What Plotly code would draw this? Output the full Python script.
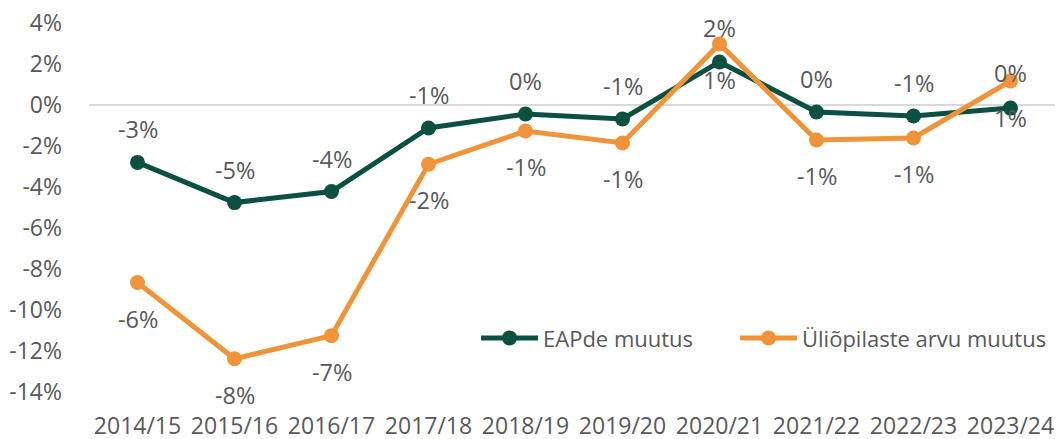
import plotly.graph_objects as go

years = ["2014/15", "2015/16", "2016/17", "2017/18", "2018/19",
         "2019/20", "2020/21", "2021/22", "2022/23", "2023/24"]
eap_values = [-2.80, -4.76, -4.22, -1.12, -0.44, -0.68, 2.10, -0.34, -0.54, -0.15]
students_values = [-8.66, -12.38, -11.25, -2.89, -1.27, -1.85, 2.98, -1.71, -1.61, 1.17]
eap_labels = ["-3%", "-5%", "-4%", "-1%", "0%", "-1%", "1%", "0%", "-1%", "1%"]
students_labels = ["-6%", "-8%", "-7%", "-2%", "-1%", "-1%", "2%", "-1%", "-1%", "0%"]
y_ticks = [-14, -12, -10, -8, -6, -4, -2, 0, 2, 4]
y_tick_text = ["-14%", "-12%", "-10%", "-8%", "-6%", "-4%", "-2%", "0%", "2%", "4%"]

GREEN = "#0b5040"
ORANGE = "#f0943c"
TEXT = "#595959"
FONT = "Open Sans"
FS = 23.5
TICK_FS = 23
LEG_FS = 22

fig = go.Figure()
fig.add_trace(go.Scatter(
    x=years, y=eap_values, name="EAPde muutus", mode="lines+markers",
    line=dict(color=GREEN, width=5), marker=dict(size=15, color=GREEN),
    legend="legend",
))
fig.add_trace(go.Scatter(
    x=years, y=students_values, name="Üliõpilaste arvu muutus", mode="lines+markers",
    line=dict(color=ORANGE, width=5), marker=dict(size=15, color=ORANGE),
    legend="legend2",
))

# label offsets (pixels): green above, orange below, with a few manual placements
green_shift = {6: -18, 9: -10}
orange_shift = {6: 16, 9: 8}
annotations = []
for i, (yr, v, t) in enumerate(zip(years, eap_values, eap_labels)):
    annotations.append(dict(x=yr, y=v, text=t, showarrow=False,
                            yshift=green_shift.get(i, 33),
                            font=dict(family=FONT, size=FS, color=TEXT)))
for i, (yr, v, t) in enumerate(zip(years, students_values, students_labels)):
    annotations.append(dict(x=yr, y=v, text=t, showarrow=False,
                            yshift=orange_shift.get(i, -36),
                            font=dict(family=FONT, size=FS, color=TEXT)))

legend_style = dict(orientation="h", y=0.146, xanchor="left", yanchor="middle",
                    font=dict(family=FONT, size=LEG_FS, color=TEXT),
                    bgcolor="rgba(0,0,0,0)", itemwidth=57)

# page body has an 8px default margin; the figure is sized to fill the window
fig.update_layout(
    width=1055, height=431,
    margin=dict(l=81, r=4, t=15, b=47, autoexpand=False),
    paper_bgcolor="white", plot_bgcolor="white",
    font=dict(family=FONT, size=FS, color=TEXT),
    showlegend=True,
    legend=dict(x=0.399, **legend_style),
    legend2=dict(x=0.666, **legend_style),
    annotations=annotations,
)
fig.update_xaxes(type="category", range=[-0.5, 9.5], showgrid=False, showline=False,
                 ticks="", ticklabelstandoff=18, automargin=False,
                 tickfont=dict(family=FONT, size=TICK_FS, color=TEXT), fixedrange=True)
fig.update_yaxes(range=[-14, 4], tickmode="array", tickvals=y_ticks, ticktext=y_tick_text,
                 showgrid=False, zeroline=True, zerolinecolor="#d9d9d9", zerolinewidth=1.5,
                 showline=False, ticks="", ticklabelstandoff=26, automargin=False,
                 ticklabeloverflow="allow",
                 tickfont=dict(family=FONT, size=TICK_FS, color=TEXT), fixedrange=True)

fig.write_html("out.html")
